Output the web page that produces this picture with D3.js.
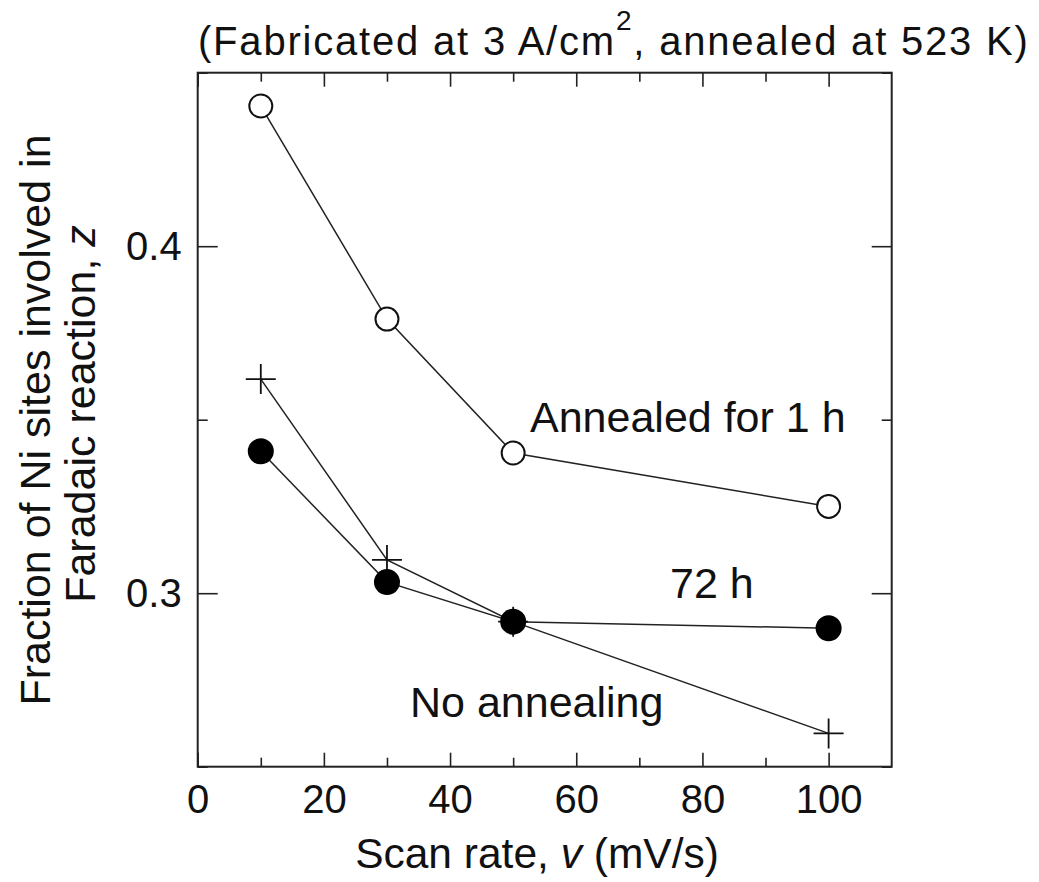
<!DOCTYPE html>
<html>
<head>
<meta charset="utf-8">
<script src="https://cdn.jsdelivr.net/npm/d3@7"></script>
<style>
  body { margin: 0; background: #fff; }
  svg { display: block; }
  text { font-family: "Liberation Sans", Arial, sans-serif; fill: #111; }
  .axis path.domain { display: none; }
  .axis line { stroke: #222; stroke-width: 1.6; }
</style>
</head>
<body>
<div id="chart"></div>
<script>
// scan rate (mV/s)
var scanRates = [10, 30, 50, 100];
// fraction of Ni sites involved in Faradaic reaction, z
var annealed1h = [0.4404, 0.379, 0.3404, 0.325];
var annealed72h = [0.3409, 0.3032, 0.2918, 0.2899];
var noAnnealing = [0.3617, 0.3096, 0.2918, 0.2596];

var xMajor = [0, 20, 40, 60, 80, 100];
var xMinor = [10, 30, 50, 70, 90];
var yMajor = [0.3, 0.4];
var yMinor = [0.25, 0.35, 0.45];

var margin = {top: 72.7, right: 147.3, bottom: 115.3, left: 197.7},
    W = 1039, H = 882,
    width = W - margin.left - margin.right,
    height = H - margin.top - margin.bottom;

var svg = d3.select("#chart").append("svg")
    .attr("width", W)
    .attr("height", H);

var g = svg.append("g")
    .attr("transform", "translate(" + margin.left + "," + margin.top + ")");

var x = d3.scaleLinear().domain([0, 110]).range([0, width]);
var y = d3.scaleLinear().domain([0.25, 0.45]).range([height, 0]);

// ticks, pointing inward on all four sides
function addAxis(axis, tx, ty) {
    return g.append("g")
        .attr("class", "axis")
        .attr("transform", "translate(" + tx + "," + ty + ")")
        .call(axis);
}

addAxis(d3.axisBottom(x).tickValues(xMajor).tickSize(-14).tickSizeOuter(0).tickPadding(18), 0, height);
addAxis(d3.axisBottom(x).tickValues(xMinor).tickSize(-9).tickSizeOuter(0).tickFormat(""), 0, height);
addAxis(d3.axisTop(x).tickValues(xMajor).tickSize(-14).tickSizeOuter(0).tickFormat(""), 0, 0);
addAxis(d3.axisTop(x).tickValues(xMinor).tickSize(-9).tickSizeOuter(0).tickFormat(""), 0, 0);

addAxis(d3.axisLeft(y).tickValues(yMajor).tickSize(-20).tickSizeOuter(0).tickPadding(16).tickFormat(d3.format(".1f")), 0, 0);
addAxis(d3.axisLeft(y).tickValues(yMinor).tickSize(-10).tickSizeOuter(0).tickFormat(""), 0, 0);
addAxis(d3.axisRight(y).tickValues(yMajor).tickSize(-20).tickSizeOuter(0).tickFormat(""), width, 0);
addAxis(d3.axisRight(y).tickValues(yMinor).tickSize(-10).tickSizeOuter(0).tickFormat(""), width, 0);

g.selectAll(".axis text")
    .style("font-size", "40px")
    .style("font-family", "'Liberation Sans', Arial, sans-serif")
    .attr("fill", "#111");

// frame
g.append("rect")
    .attr("width", width)
    .attr("height", height)
    .attr("fill", "none")
    .attr("stroke", "#222")
    .attr("stroke-width", 2);

var line = d3.line()
    .x(function (d) { return x(d[0]); })
    .y(function (d) { return y(d[1]); });

function pairs(vals) {
    return scanRates.map(function (r, i) { return [r, vals[i]]; });
}

[noAnnealing, annealed72h, annealed1h].forEach(function (vals) {
    g.append("path")
        .datum(pairs(vals))
        .attr("fill", "none")
        .attr("stroke", "#222")
        .attr("stroke-width", 1.5)
        .attr("d", line);
});

// no annealing: plus markers
g.append("g").selectAll("path")
    .data(pairs(noAnnealing))
    .enter().append("path")
    .attr("transform", function (d) { return "translate(" + x(d[0]) + "," + y(d[1]) + ")"; })
    .attr("d", "M-15,0H15M0,-15V15")
    .attr("stroke", "#111")
    .attr("stroke-width", 1.8);

// 72 h: filled circles
g.append("g").selectAll("circle")
    .data(pairs(annealed72h))
    .enter().append("circle")
    .attr("cx", function (d) { return x(d[0]); })
    .attr("cy", function (d) { return y(d[1]); })
    .attr("r", 13)
    .attr("fill", "#000");

// 1 h: open circles
g.append("g").selectAll("circle")
    .data(pairs(annealed1h))
    .enter().append("circle")
    .attr("cx", function (d) { return x(d[0]); })
    .attr("cy", function (d) { return y(d[1]); })
    .attr("r", 11.5)
    .attr("fill", "#fff")
    .attr("stroke", "#111")
    .attr("stroke-width", 2);

// curve labels
var labels = [
    {t: "Annealed for 1 h", x: 530, y: 431.7},
    {t: "72 h", x: 670, y: 598},
    {t: "No annealing", x: 410, y: 716.7}
];
svg.append("g").selectAll("text")
    .data(labels)
    .enter().append("text")
    .attr("x", function (d) { return d.x; })
    .attr("y", function (d) { return d.y; })
    .style("font-size", "43px")
    .text(function (d) { return d.t; });

// title
var title = svg.append("text")
    .attr("x", 198)
    .attr("y", 55)
    .style("font-size", "40px")
    .style("letter-spacing", "1.8px");
title.append("tspan").text("(Fabricated at 3 A/cm");
title.append("tspan").attr("dy", -25).style("font-size", "28px").text("2");
title.append("tspan").attr("dy", 25).text(", annealed at 523 K)");

// x label
var xl = svg.append("text")
    .attr("x", 537)
    .attr("y", 868)
    .attr("text-anchor", "middle")
    .style("font-size", "42.5px");
xl.append("tspan").text("Scan rate, ");
xl.append("tspan").style("font-style", "italic").text("v");
xl.append("tspan").text(" (mV/s)");

// y label, two lines
svg.append("text")
    .attr("transform", "translate(50,420) rotate(-90)")
    .attr("text-anchor", "middle")
    .style("font-size", "43px")
    .text("Fraction of Ni sites involved in");
var yl2 = svg.append("text")
    .attr("transform", "translate(95,414) rotate(-90)")
    .attr("text-anchor", "middle")
    .style("font-size", "43px");
yl2.append("tspan").text("Faradaic reaction, ");
yl2.append("tspan").style("font-style", "italic").text("z");
</script>
</body>
</html>
